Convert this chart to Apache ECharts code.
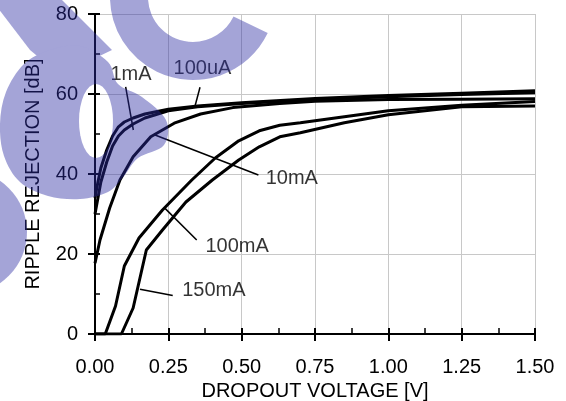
<!DOCTYPE html>
<html>
<head>
<meta charset="utf-8">
<script src="https://cdn.jsdelivr.net/npm/echarts@6/dist/echarts.min.js"></script>
<style>
html,body{margin:0;padding:0;background:#fff;}
#chart{width:566px;height:401px;}
</style>
</head>
<body>
<div id="chart"></div>
<script>
// ---- data (x = dropout voltage [V], y = ripple rejection [dB]) ----
const xTickLabels = ['0.00','0.25','0.50','0.75','1.00','1.25','1.50'];
const yTickLabels = ['0','20','40','60','80'];
const seriesNames = ['100uA','1mA','10mA','100mA','150mA'];

const s100uA = [[0,34],[0.01,38],[0.02,41.5],[0.04,46],[0.06,49.5],[0.08,51.8],[0.1,53],[0.13,54],[0.17,55],[0.25,56.2],[0.35,57],[0.5,57.8],[0.75,58.9],[1.0,59.6],[1.25,60.2],[1.5,60.8]];
const s1mA   = [[0,30],[0.01,34],[0.02,38],[0.04,43],[0.06,47],[0.08,49.5],[0.1,51],[0.13,52.5],[0.17,54],[0.25,55.8],[0.35,56.8],[0.5,57.6],[0.75,58.6],[1.0,59.3],[1.25,59.9],[1.5,60.3]];
const s10mA  = [[0,17.7],[0.017,23.5],[0.05,31.5],[0.085,38.5],[0.13,44.3],[0.19,49.3],[0.27,52.7],[0.36,55],[0.47,56.6],[0.63,57.6],[0.75,58.2],[1.0,58.6],[1.25,58.7],[1.5,58.8]];
const s100mA = [[0,0],[0.035,0],[0.07,7],[0.1,17],[0.15,24],[0.23,31],[0.33,38.5],[0.41,44],[0.49,48.3],[0.56,50.8],[0.63,52.2],[0.7,52.8],[0.85,54.3],[1.0,55.8],[1.25,57.2],[1.5,58.1]];
const s150mA = [[0,0],[0.09,0],[0.13,6.5],[0.175,21],[0.23,26],[0.31,33],[0.4,38.5],[0.49,43.5],[0.56,46.8],[0.63,49.3],[0.7,50.3],[0.85,52.8],[1.0,54.8],[1.25,56.8],[1.5,57.0]];

const annoText = ['1mA','100uA','10mA','100mA','150mA'];
const annoPos  = [[0.051,64.8],[0.266,66.3],[0.58,39],[0.375,21.9],[0.2955,11]];
const leaders = [
  [[0.1045,61.8],[0.1307,51]],
  [[0.358,61.7],[0.341,57]],
  [[0.2046,49.75],[0.557,39.75]],
  [[0.3467,23.5],[0.2387,31.4]],
  [[0.265,9.6],[0.1534,11.2]]
];

const allSeries = [s100uA, s1mA, s10mA, s100mA, s150mA];
const FONT = 'Liberation Sans, Arial, sans-serif';

// ---- decorative watermark, painted once on an offscreen canvas ----
function makeWatermark(){
  const c = document.createElement('canvas');
  c.width = 566; c.height = 401;
  const ctx = c.getContext('2d');
  ctx.fillStyle = 'rgb(46,46,165)';
  // diagonal band from the top-left corner
  ctx.beginPath();
  ctx.moveTo(-16,-10); ctx.lineTo(52,-10); ctx.lineTo(112,50); ctx.lineTo(60,75); ctx.lineTo(30,50);
  ctx.closePath(); ctx.fill();
  // bowl (outer outline, smooth closed curve)
  const pts = [[80,46],[108,62],[118,84],[142,97],[166,120],[164,145],[138,158],[124,176],[108,192],
               [80,199],[48,196],[20,182],[4,156],[0,124],[6,92],[24,64],[50,50]];
  ctx.beginPath();
  const n = pts.length;
  ctx.moveTo(pts[0][0], pts[0][1]);
  for(let i=0;i<n;i++){
    const p0=pts[(i-1+n)%n], p1=pts[i], p2=pts[(i+1)%n], p3=pts[(i+2)%n];
    ctx.bezierCurveTo(p1[0]+(p2[0]-p0[0])/6, p1[1]+(p2[1]-p0[1])/6,
                      p2[0]-(p3[0]-p1[0])/6, p2[1]-(p3[1]-p1[1])/6, p2[0], p2[1]);
  }
  ctx.closePath(); ctx.fill();
  // U-shaped stroke at the top
  ctx.beginPath();
  ctx.arc(193,-3,83,0.45,Math.PI,false);
  ctx.arc(193,-3,45,Math.PI,0.45,true);
  ctx.closePath(); ctx.fill();
  // partial disc at the left edge
  ctx.beginPath(); ctx.arc(-35,232,62,0,Math.PI*2); ctx.fill();
  // hole of the bowl
  ctx.globalCompositeOperation = 'destination-out';
  ctx.beginPath(); ctx.ellipse(96,121,17,37,0,0,Math.PI*2); ctx.fill();
  ctx.globalCompositeOperation = 'source-over';
  return c;
}

const chart = echarts.init(document.getElementById('chart'), null, {renderer:'canvas'});

const baseX = {type:'value', min:0, max:1.5, interval:0.25};
const baseY = {type:'value', min:0, max:80, interval:20};

const series = allSeries.map((d,i)=>({
  name: seriesNames[i], type:'line', data:d, showSymbol:false, symbol:'none',
  lineStyle:{color:'#000', width:3}, z:3, animation:false
}));
leaders.forEach(l=>series.push({
  type:'line', data:l, showSymbol:false, symbol:'none', silent:true,
  lineStyle:{color:'#000', width:1.5}, z:4, animation:false
}));
series.push({
  type:'scatter', data: annoPos.map((p,i)=>({value:p, name:annoText[i]})),
  symbol:'circle', symbolSize:1, itemStyle:{color:'rgba(0,0,0,0)'}, z:5, animation:false, silent:true,
  label:{show:true, position:'right', distance:0, formatter:p=>p.name,
    color:'#000', fontSize:20, fontFamily:FONT}
});

const option = {
  animation:false,
  backgroundColor:'#fff',
  grid:{left:95, right:31, top:14, bottom:67, containLabel:false, outerBoundsMode:'none'},
  xAxis:[
    Object.assign({}, baseX, {
      position:'bottom',
      name:'DROPOUT VOLTAGE [V]', nameLocation:'middle', nameGap:39,
      nameTextStyle:{color:'#000', fontSize:20, fontFamily:FONT},
      axisLine:{show:true, onZero:false, lineStyle:{color:'#000', width:2}},
      axisTick:{show:true, inside:false, length:7, lineStyle:{color:'#000', width:2}},
      axisLabel:{show:true, margin:23, color:'#000', fontSize:20, fontFamily:FONT,
        formatter:(v)=>xTickLabels[Math.round(v/0.25)]},
      splitLine:{show:true, lineStyle:{color:'#c8c8c8', width:1}}
    }),
    Object.assign({}, baseX, {
      position:'bottom',
      axisLine:{show:false, onZero:false},
      axisTick:{show:true, inside:true, length:6, lineStyle:{color:'#000', width:2}},
      minorTick:{show:true, splitNumber:2, length:6, lineStyle:{color:'#000', width:1.5}},
      axisLabel:{show:false}, splitLine:{show:false}
    })
  ],
  yAxis:[
    Object.assign({}, baseY, {
      position:'left',
      name:'RIPPLE REJECTION [dB]', nameLocation:'middle', nameGap:52, nameRotate:90,
      nameTextStyle:{color:'#000', fontSize:20, fontFamily:FONT},
      axisLine:{show:true, onZero:false, lineStyle:{color:'#000', width:2}},
      axisTick:{show:true, inside:false, length:7, lineStyle:{color:'#000', width:2}},
      axisLabel:{show:true, margin:17, color:'#000', fontSize:20, fontFamily:FONT,
        formatter:(v)=>yTickLabels[Math.round(v/20)]},
      splitLine:{show:true, lineStyle:{color:'#c8c8c8', width:1}}
    }),
    Object.assign({}, baseY, {
      position:'left',
      axisLine:{show:false, onZero:false},
      axisTick:{show:true, inside:true, length:5, lineStyle:{color:'#000', width:2}},
      minorTick:{show:true, splitNumber:2, length:5, lineStyle:{color:'#000', width:1.5}},
      axisLabel:{show:false}, splitLine:{show:false}
    })
  ],
  series: series,
  graphic:[
    {type:'image', z:100, silent:true,
      style:{image:makeWatermark(), x:0, y:0, width:566, height:401, opacity:0.43}}
  ]
};
chart.setOption(option);
</script>
</body>
</html>
